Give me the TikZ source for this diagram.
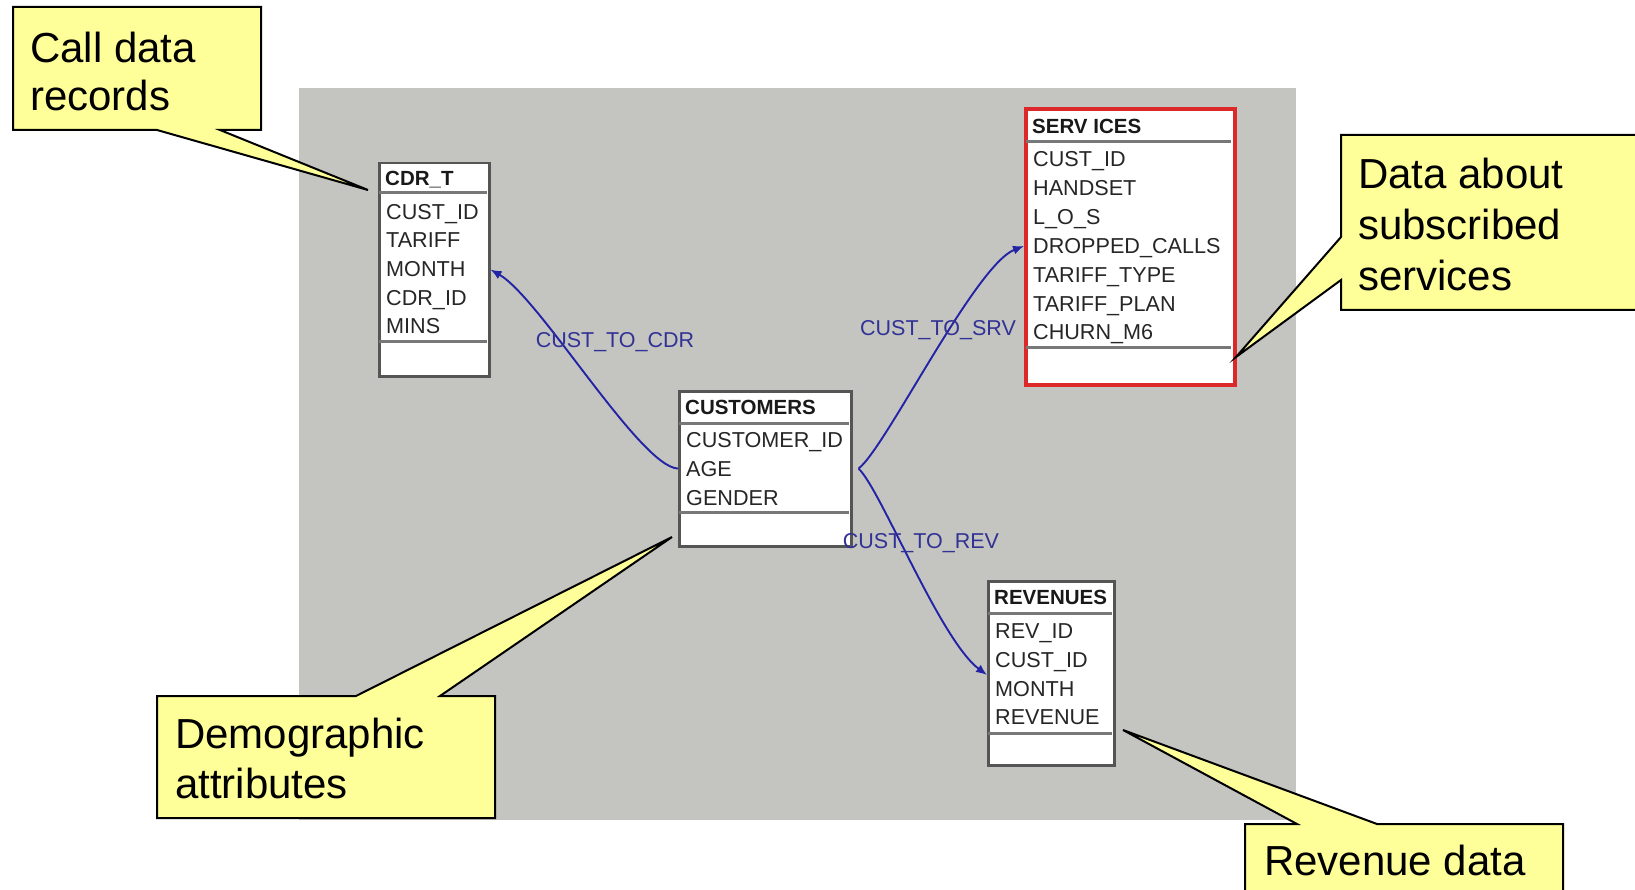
\documentclass[tikz,border=0pt]{standalone}
\usepackage{fontspec}
\setmainfont{Liberation Sans}
\usetikzlibrary{arrows.meta}
\definecolor{bggray}{RGB}{196,197,193}
\definecolor{callyellow}{RGB}{255,255,153}
\definecolor{relblue}{RGB}{35,35,165}
\definecolor{lblblue}{RGB}{50,50,150}
\definecolor{tblborder}{RGB}{85,85,85}
\definecolor{tbldivc}{RGB}{120,120,120}
\definecolor{srvred}{RGB}{220,40,40}
\begin{document}
\begin{tikzpicture}[x=1pt,y=-1pt,
  callout/.style={draw=black,line width=2pt,fill=callyellow,line join=miter},
  calltext/.style={anchor=north west,inner sep=0pt,align=left},
  tbl/.style={draw=tblborder,line width=2.5pt,fill=white,anchor=north west,inner sep=0pt},
  tbldiv/.style={draw=tbldivc,line width=3pt},
  hdr/.style={anchor=base west,inner sep=0pt,font=\fontsize{20.5}{24}\selectfont\bfseries,text=black!90},
  fld/.style={anchor=base west,inner sep=0pt,font=\fontsize{21.6}{25}\selectfont,text=black!85},
  rel/.style={draw=relblue,line width=1.9pt,-{Latex[length=11pt,width=9pt]}},
  rellabel/.style={inner sep=0pt,font=\fontsize{21.5}{25}\selectfont,text=lblblue}]
\useasboundingbox (0,0) rectangle (1635,890);
\fill[bggray] (299,88) rectangle (1296,820);

% ---------- CDR_T ----------
\node[tbl,minimum width=110pt,minimum height=213pt] (cdr) at (378,162) {};
\draw[tbldiv] (379,193) -- (487,193);
\draw[tbldiv] (379,342) -- (487,342);
\node[hdr] (cd-h) at (385,186) {CDR\_T};
\node[fld] (cd-cust) at (386,220) {CUST\_ID};
\node[fld] (cd-tariff) at (386,248) {TARIFF};
\node[fld] (cd-month) at (386,277) {MONTH};
\node[fld] (cd-cdr) at (386,306) {CDR\_ID};
\node[fld] (cd-mins) at (386,334) {MINS};

% ---------- CUSTOMERS ----------
\node[tbl,minimum width=172pt,minimum height=155pt] (cust) at (678,390) {};
\draw[tbldiv] (679,423) -- (849,423);
\draw[tbldiv] (679,512) -- (849,512);
\node[hdr] (cu-h) at (685,414) {CUSTOMERS};
\node[fld] (cu-id) at (686,447) {CUSTOMER\_ID};
\node[fld] (cu-age) at (686,476) {AGE};
\node[fld] (cu-gender) at (686,505) {GENDER};

% ---------- SERVICES ----------
\node[tbl,draw=srvred,line width=4pt,minimum width=209pt,minimum height=276pt] (srv) at (1024,107) {};
\draw[tbldiv] (1026,142) -- (1231,142);
\draw[tbldiv] (1026,348) -- (1231,348);
\node[hdr] (sv-h) at (1032,134) {SERV ICES};
\node[fld] (sv-cust) at (1033,167) {CUST\_ID};
\node[fld] (sv-hand) at (1033,196) {HANDSET};
\node[fld] (sv-los) at (1033,225) {L\_O\_S};
\node[fld] (sv-drop) at (1033,254) {DROPPED\_CALLS};
\node[fld] (sv-ttype) at (1033,283) {TARIFF\_TYPE};
\node[fld] (sv-tplan) at (1033,312) {TARIFF\_PLAN};
\node[fld] (sv-churn) at (1033,340) {CHURN\_M6};

% ---------- REVENUES ----------
\node[tbl,minimum width=126pt,minimum height=184pt] (rev) at (987,580) {};
\draw[tbldiv] (988,613) -- (1112,613);
\draw[tbldiv] (988,733) -- (1112,733);
\node[hdr] (rv-h) at (994,604) {REVENUES};
\node[fld] (rv-id) at (995,638) {REV\_ID};
\node[fld] (rv-cust) at (995,667) {CUST\_ID};
\node[fld] (rv-month) at (995,696) {MONTH};
\node[fld] (rv-rev) at (995,724) {REVENUE};

% ---------- relations ----------
\draw[rel] (cust.west |- cu-age) .. controls (640,467) and (540,298) .. (cdr.east |- cd-month);
\draw[rel] ([xshift=6pt]cust.east |- cu-age) .. controls (885,449) and (975,265) .. (srv.west |- 0,246);
\draw[rel] ([xshift=6pt]cust.east |- cu-age) .. controls (880,488) and (940,640) .. (rev.west |- 0,675);
\node[rellabel] (l-cdr) at (615,342) {CUST\_TO\_CDR};
\node[rellabel] (l-srv) at (938,330) {CUST\_TO\_SRV};
\node[rellabel] (l-rev) at (921,543) {CUST\_TO\_REV};

% ---------- callouts ----------
\coordinate (tip-cdr) at (368,190);
\draw[callout] (13,7) -- (261,7) -- (261,130) -- (220,130) -- (tip-cdr) -- (157,130) -- (13,130) -- cycle;
\node[calltext,font=\fontsize{42}{48}\selectfont] (c-cdr) at (30,32) {Call data\\records};

\coordinate (tip-srv) at (1236,357);
\draw[callout] (1341,135) -- (1645,135) -- (1645,310) -- (1341,310) -- (1341,280) -- (tip-srv) -- (1341,237) -- cycle;
\node[calltext,font=\fontsize{42}{51}\selectfont] (c-srv) at (1358,158) {Data about\\subscribed\\services};

\coordinate (tip-cust) at (672,537);
\draw[callout] (157,696) -- (356,696) -- (tip-cust) -- (440,696) -- (495,696) -- (495,818) -- (157,818) -- cycle;
\node[calltext,font=\fontsize{42}{50}\selectfont] (c-cust) at (175,718) {Demographic\\attributes};

\coordinate (tip-rev) at (1123,730);
\draw[callout] (1245,824) -- (1297,824) -- (tip-rev) -- (1377,824) -- (1563,824) -- (1563,900) -- (1245,900) -- cycle;
\node[calltext,font=\fontsize{42}{50}\selectfont] (c-rev) at (1264,845) {Revenue data};
\end{tikzpicture}
\end{document}
